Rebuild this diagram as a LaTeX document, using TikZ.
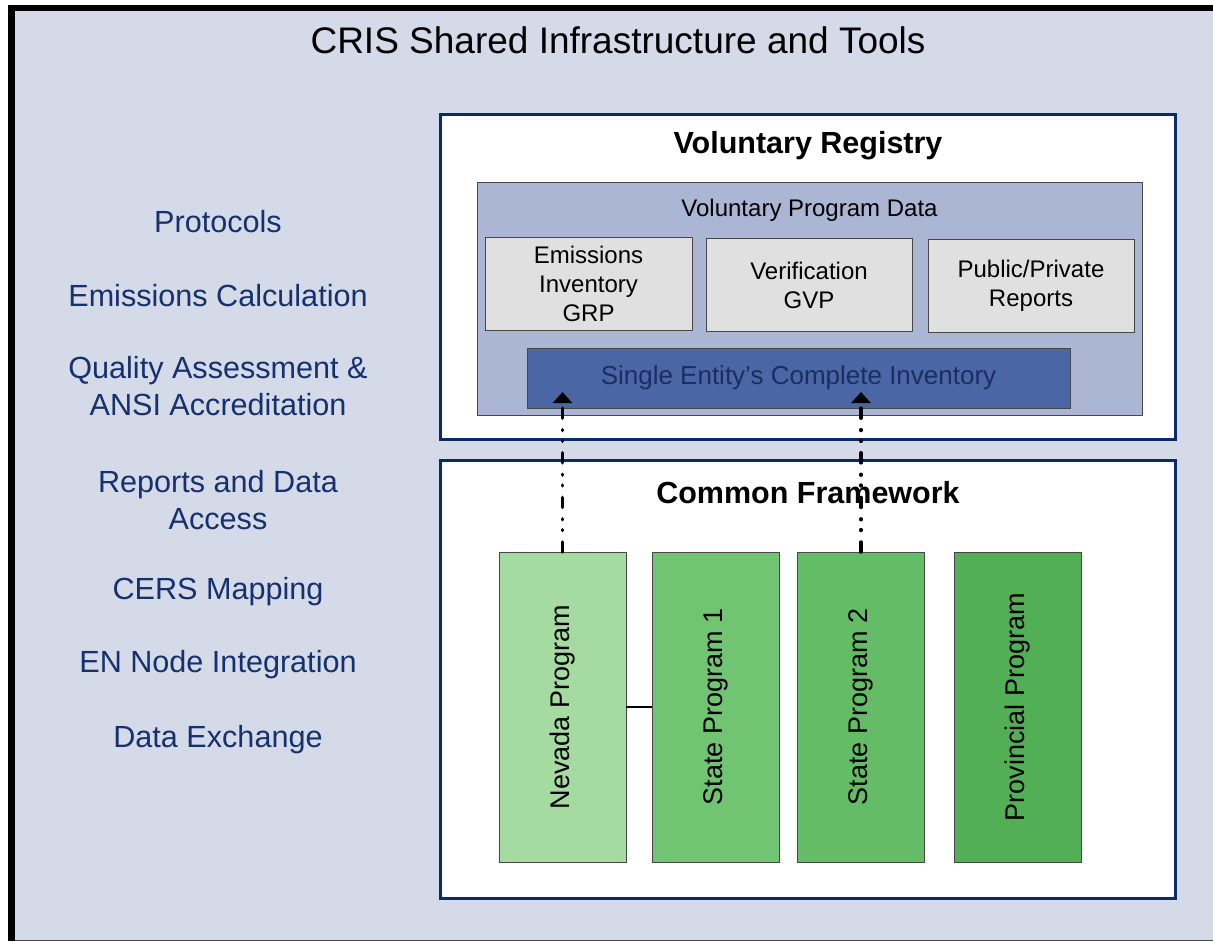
\documentclass[tikz,border=0pt]{standalone}
\usepackage{fontspec}
\usepackage{graphicx}
\setmainfont{Liberation Sans}
\usetikzlibrary{arrows.meta}
\definecolor{bgc}{HTML}{D5DAE8}
\definecolor{navyb}{HTML}{0B2A6C}
\definecolor{navyt}{HTML}{15316E}
\definecolor{vpdc}{HTML}{AAB6D3}
\definecolor{sec}{HTML}{4A66A4}
\definecolor{setext}{HTML}{1A2E63}
\definecolor{greyc}{HTML}{E0E0E0}
\definecolor{edgec}{HTML}{474747}
\definecolor{gA}{HTML}{A5DBA0}
\definecolor{gB}{HTML}{70C472}
\definecolor{gC}{HTML}{64BD66}
\definecolor{gD}{HTML}{53AF56}
\begin{document}
\begin{tikzpicture}[x=1pt,y=-1pt,
  every node/.style={inner sep=0pt,outer sep=0pt},
  leftlbl/.style={font=\fontsize{30.6}{37}\selectfont,text=navyt,align=center},
  bigbox/.style={draw=navyb,line width=3.5pt,fill=white,minimum width=735pt},
  header/.style={font=\fontsize{30.5}{36}\selectfont\bfseries,anchor=base},
  greybox/.style={draw=edgec,line width=1pt,fill=greyc,align=center,
    font=\fontsize{24}{29}\selectfont,minimum height=93pt},
  greenbox/.style={draw=edgec,line width=1pt,minimum width=127pt,minimum height=310pt,
    font=\fontsize{27}{32}\selectfont},
  dotarrow/.style={line width=3.5pt,line cap=round,
    dash pattern=on 10pt off 11.5pt on 0.8pt off 10pt on 0.8pt off 11.5pt,
    -{Triangle[width=19pt,length=11pt]}}
]
\useasboundingbox (0,0) rectangle (1213,943);
\fill[black] (8,5) rectangle (1213,941);
\fill[bgc] (15,11) rectangle (1213,940);
\draw[edgec,line width=1.2pt] (15,940.4) -- (1213,940.4);

\node[font=\fontsize{37}{44}\selectfont,anchor=base] (title) at (618,53) {CRIS Shared Infrastructure and Tools};

% left column
\node[leftlbl] (l1) at (218,222) {Protocols};
\node[leftlbl] (l2) at (218,296) {Emissions Calculation};
\node[leftlbl] (l3) at (218,386.5) {Quality Assessment \&\\ANSI Accreditation};
\node[leftlbl] (l4) at (218,500) {Reports and Data\\Access};
\node[leftlbl] (l5) at (218,592) {CERS Mapping};
\node[leftlbl] (l6) at (218,665) {EN Node Integration};
\node[leftlbl] (l7) at (218,740) {Data Exchange};

% voluntary registry
\node[bigbox,minimum height=325pt] (reg) at (808,277) {};
\node[header] (regt) at (808,153) {Voluntary Registry};
\node[draw=edgec,line width=1pt,fill=vpdc,minimum width=665pt,minimum height=233pt] (vpd) at (809.5,298.5) {};
\node[font=\fontsize{24}{29}\selectfont,anchor=base] (vpdt) at (809.5,216) {Voluntary Program Data};
\node[greybox,minimum width=207pt] (e1) at (588.5,283.5) {Emissions\\Inventory\\GRP};
\node[greybox,minimum width=206pt] (e2) at (809,285) {Verification\\GVP};
\node[greybox,minimum width=206pt] (e3) at (1031,285.5) {Public/Private\\Reports};
\node[draw=edgec,line width=1pt,fill=sec,minimum width=543pt,minimum height=60pt,
  text=setext,font=\fontsize{26}{31}\selectfont] (se) at (798.5,378) {Single Entity{\char"0027}s Complete Inventory};

% common framework
\node[bigbox,minimum height=438pt] (cf) at (808,679.5) {};
\node[header] (cft) at (808,503) {Common Framework};
\node[greenbox,fill=gA] (nev) at (562.5,707) {\rotatebox{90}{Nevada Program}};
\node[greenbox,fill=gB] (s1) at (715.5,707) {\rotatebox{90}{State Program 1}};
\node[greenbox,fill=gC] (s2) at (861,707) {\rotatebox{90}{State Program 2}};
\node[greenbox,fill=gD] (pr) at (1017.5,707) {\rotatebox{90}{Provincial Program}};

\draw[black,line width=1.2pt] (nev.east) -- (s1.west);

\coordinate (t1) at (562.5,392);
\coordinate (t2) at (861,392);
\draw[dotarrow] (nev.north) -- (t1);
\draw[dotarrow] (s2.north) -- (t2);
\end{tikzpicture}
\end{document}
